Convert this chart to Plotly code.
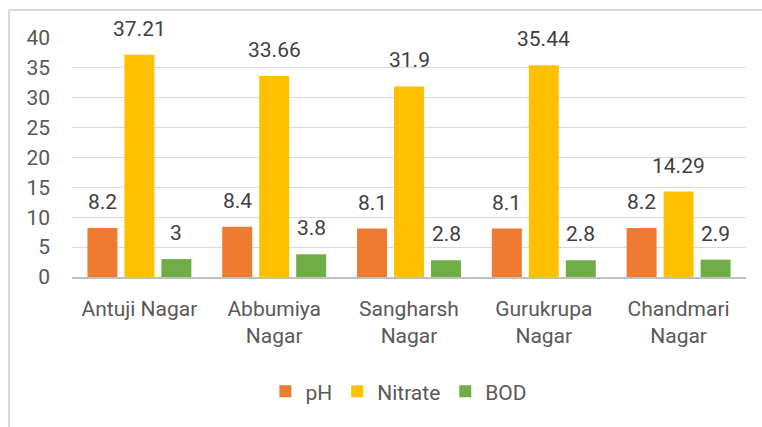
import plotly.graph_objects as go

categories = ["Antuji Nagar", "Abbumiya<br>Nagar", "Sangharsh<br>Nagar", "Gurukrupa<br>Nagar", "Chandmari<br>Nagar"]
ph = [8.2, 8.4, 8.1, 8.1, 8.2]
nitrate = [37.21, 33.66, 31.9, 35.44, 14.29]
bod = [3, 3.8, 2.8, 2.8, 2.9]
ph_labels = ["8.2", "8.4", "8.1", "8.1", "8.2"]
nitrate_labels = ["37.21", "33.66", "31.9", "35.44", "14.29"]
bod_labels = ["3", "3.8", "2.8", "2.8", "2.9"]

FONT = "Roboto, Arial, sans-serif"
SIZE = 21

series = [
    ("pH", ph, ph_labels, "#EE7B30", -37),
    ("Nitrate", nitrate, nitrate_labels, "#FFC000", 0),
    ("BOD", bod, bod_labels, "#70AD47", 37),
]

fig = go.Figure()
annotations = []
for name, vals, labels, color, dx in series:
    fig.add_trace(go.Bar(name=name, x=categories, y=vals,
                         marker=dict(color=color, line=dict(width=0))))
    for c, v, l in zip(categories, vals, labels):
        annotations.append(dict(x=c, y=v, xref="x", yref="y", text=l, showarrow=False,
                                xanchor="center", yanchor="bottom", xshift=dx, yshift=12,
                                font=dict(size=SIZE, color="#404040", family=FONT)))

fig.update_layout(
    width=762, height=427,
    margin=dict(l=72, r=16, t=38, b=150, autoexpand=False),
    paper_bgcolor="white", plot_bgcolor="white",
    barmode="group", bargap=0.177, bargroupgap=0.19,
    font=dict(family=FONT, size=SIZE, color="#595959"),
    legend=dict(orientation="h", x=0.485, xanchor="center", y=-0.48, yanchor="middle",
                font=dict(size=SIZE, color="#595959"), traceorder="normal"),
    yaxis=dict(range=[0, 40], dtick=5, showgrid=True, gridcolor="#D9D9D9", gridwidth=1,
               zeroline=False, showline=False, ticks="", tickfont=dict(size=SIZE, color="#595959"),
               ticklabelstandoff=21),
    xaxis=dict(showline=True, linecolor="#BFBFBF", linewidth=1.5, ticks="",
               tickfont=dict(size=SIZE, color="#595959"), ticklabelstandoff=12),
    annotations=annotations,
    shapes=[
        dict(type="line", xref="paper", yref="paper",
             x0=(9 - 72) / 674, x1=1.1, y0=(277 - 10) / 239, y1=(277 - 10) / 239,
             line=dict(color="#D9D9D9", width=2)),
        dict(type="line", xref="paper", yref="paper",
             x0=(9 - 72) / 674, x1=(9 - 72) / 674, y0=-0.7, y1=(277 - 10) / 239,
             line=dict(color="#D9D9D9", width=2)),
    ],
)

fig.write_html("out.html", config={"displayModeBar": False},
               post_script="document.body.style.margin='0';document.body.style.overflow='hidden';")
